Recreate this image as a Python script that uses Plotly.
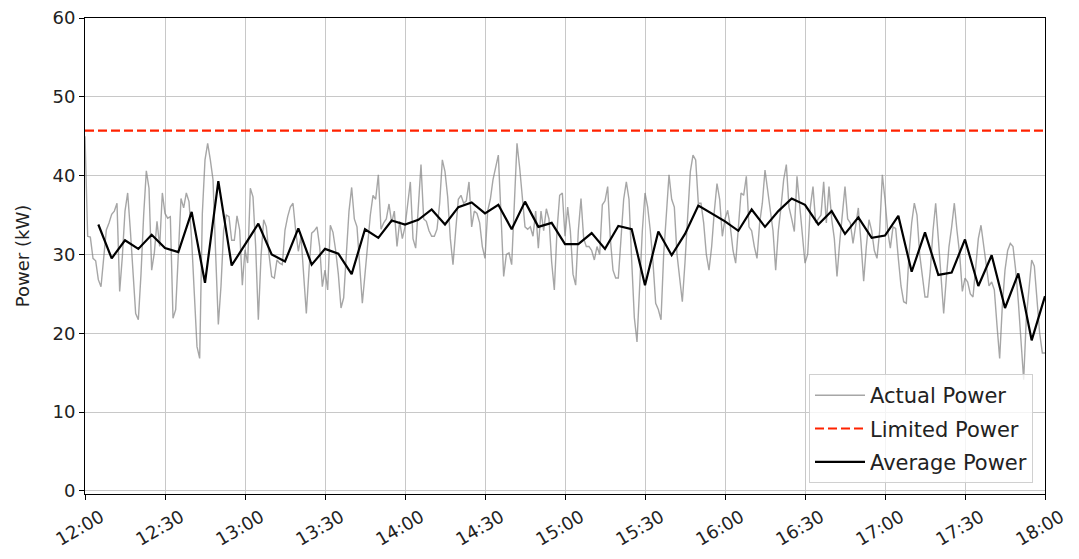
import pandas as pd
import plotly.graph_objects as go

# Actual power, 1-minute samples from 12:00 to 18:00 (kW)
actual_power = [
    45.0, 32.3, 32.2, 29.5, 29.2, 26.8, 25.9, 29.5, 33.1, 34.0,
    35.1, 35.5, 36.5, 25.3, 29.7, 35.5, 37.8, 33.1, 27.0, 22.5,
    21.7, 27.5, 35.0, 40.6, 38.4, 28.0, 30.2, 34.2, 31.0, 37.8,
    35.2, 34.6, 34.8, 21.9, 23.0, 31.0, 37.1, 35.9, 37.8, 36.7,
    31.8, 25.0, 18.3, 16.8, 35.2, 42.0, 44.1, 42.0, 39.5, 30.0,
    21.1, 26.0, 33.1, 35.0, 34.8, 31.8, 31.8, 34.9, 33.1, 26.1,
    30.6, 28.9, 38.4, 37.3, 31.0, 21.7, 29.7, 34.4, 33.5, 30.0,
    27.2, 27.0, 29.3, 28.9, 28.7, 33.1, 34.8, 36.0, 36.5, 33.0,
    30.4, 32.3, 27.0, 22.5, 28.0, 32.7, 33.0, 33.5, 31.0, 25.9,
    28.0, 25.5, 33.7, 32.8, 30.5, 27.5, 23.2, 24.5, 30.0, 35.5,
    38.5, 34.5, 33.5, 28.0, 23.8, 27.5, 31.5, 35.0, 37.5, 37.0,
    40.1, 33.2, 34.0, 34.5, 36.4, 34.0, 35.5, 31.0, 34.2, 32.0,
    33.5, 36.5, 39.2, 32.0, 30.8, 36.0, 41.4, 34.5, 34.2, 33.0,
    32.3, 32.3, 33.2, 36.5, 42.0, 40.5, 37.3, 32.0, 28.7, 33.0,
    37.0, 37.5, 36.5, 36.8, 39.2, 33.5, 35.5, 35.2, 34.0, 31.0,
    29.5, 35.5, 37.0, 39.5, 41.2, 42.6, 35.0, 27.2, 30.0, 30.2,
    28.7, 37.0, 44.1, 41.0, 36.9, 33.5, 33.2, 33.5, 32.3, 35.5,
    30.8, 35.5, 33.0, 35.8, 34.5, 29.0, 25.5, 33.0, 37.5, 37.8,
    32.3, 36.0, 33.0, 27.5, 26.1, 33.0, 37.1, 32.0, 31.0, 31.0,
    30.5, 29.3, 31.0, 30.0, 36.3, 36.8, 38.6, 32.0, 28.0, 27.0,
    27.0, 31.5, 37.0, 39.2, 37.0, 29.3, 22.0, 18.9, 26.0, 33.0,
    37.8, 36.0, 33.0, 29.0, 23.8, 23.0, 21.7, 30.0, 35.0, 40.1,
    37.0, 36.0, 30.0, 27.0, 24.0, 29.0, 35.0, 40.5, 42.6, 42.0,
    36.5, 36.5, 34.0, 30.0, 28.0, 31.0, 35.5, 39.0, 37.0, 32.3,
    34.5, 35.6, 33.5, 30.5, 28.9, 33.5, 37.8, 37.5, 39.9, 33.5,
    33.0, 31.0, 29.5, 34.0, 36.5, 40.7, 38.0, 36.0, 33.0, 28.0,
    33.0, 36.0, 39.5, 41.4, 36.0, 34.5, 32.9, 39.9, 36.0, 33.0,
    28.9, 30.0, 36.0, 38.6, 34.0, 34.5, 35.0, 39.2, 34.0, 38.6,
    34.5, 32.0, 27.2, 31.5, 35.0, 38.6, 34.5, 34.0, 31.4, 33.5,
    35.9, 31.5, 26.6, 31.0, 34.4, 33.0, 30.5, 29.5, 33.0, 40.1,
    37.0, 33.0, 30.8, 33.5, 33.3, 29.5, 26.0, 24.0, 23.8, 30.0,
    34.0, 36.5, 35.0, 30.0, 27.0, 24.6, 24.6, 28.0, 33.0, 36.5,
    32.0, 27.0, 22.5, 27.0, 31.0, 33.5, 36.5, 33.0, 30.0, 25.3,
    27.0, 26.5, 25.0, 24.6, 28.0, 32.0, 33.7, 31.0, 28.5, 26.0,
    26.5, 25.5, 21.0, 16.8, 23.5, 28.0, 30.5, 31.4, 31.0, 28.0,
    24.0, 19.6, 14.1, 22.0, 26.0, 29.3, 28.5, 24.0, 20.0, 17.5,
    17.5,
]

# 5-minute average power, 12:05 .. 18:00 (kW)
average_power = [
    33.8, 29.5, 31.8, 30.7, 32.5, 30.8, 30.3, 35.4, 26.4, 39.3,
    28.6, 31.3, 33.9, 30.0, 29.1, 33.3, 28.7, 30.7, 30.1, 27.5,
    33.2, 32.1, 34.3, 33.8, 34.4, 35.7, 33.8, 36.0, 36.6, 35.2,
    36.3, 33.2, 36.7, 33.5, 34.0, 31.3, 31.3, 32.7, 30.7, 33.6,
    33.2, 26.1, 32.9, 29.9, 32.6, 36.2, 35.2, 34.2, 33.0, 35.7,
    33.5, 35.5, 37.1, 36.3, 33.8, 35.5, 32.6, 34.7, 32.1, 32.4,
    34.9, 27.8, 32.8, 27.4, 27.7, 31.9, 26.0, 29.9, 23.2, 27.6,
    19.1, 24.7,
]

limited_power = 45.7
start_time = "2020-01-01 12:00"
end_time = "2020-01-01 18:00"

t_actual = pd.date_range(start_time, periods=len(actual_power), freq="1min")
t_avg = pd.date_range("2020-01-01 12:05", periods=len(average_power), freq="5min")
t_limit = [pd.Timestamp(start_time), pd.Timestamp(end_time)]

font_family = "DejaVu Sans"

fig = go.Figure()
fig.add_trace(go.Scatter(
    x=t_actual, y=actual_power, mode="lines", name="Actual Power", legendgroup="a",
    line=dict(color="rgba(128,128,128,0.7)", width=1.4),
))
fig.add_trace(go.Scatter(
    x=t_limit, y=[limited_power, limited_power], mode="lines", name="Limited Power",
    legendgroup="b",
    line=dict(color="#ff2200", width=2.2, dash="9px,4px"),
))
fig.add_trace(go.Scatter(
    x=t_avg, y=average_power, mode="lines", name="Average Power", legendgroup="c",
    line=dict(color="black", width=2.2),
))

fig.update_layout(
    width=1079, height=559,
    margin=dict(l=85, r=34, t=18, b=65),
    paper_bgcolor="white", plot_bgcolor="white",
    font=dict(family=font_family, size=18, color="#222222"),
    showlegend=True,
    legend=dict(
        x=0.9875, y=0.023, xanchor="right", yanchor="bottom",
        bgcolor="rgba(255,255,255,0.8)", bordercolor="#d0d0d0", borderwidth=1,
        font=dict(family=font_family, size=21, color="#222222"),
        tracegroupgap=3, traceorder="grouped", itemwidth=50,
    ),
)
fig.update_xaxes(
    type="date", range=t_limit, tickformat="%H:%M", dtick=30 * 60 * 1000,
    tick0=start_time, tickangle=-30, ticklabelshift=16, automargin=False,
    tickfont=dict(size=18),
    showgrid=True, gridcolor="#c8c8c8", gridwidth=1,
    showline=True, linecolor="black", linewidth=1, mirror=True,
    ticks="outside", ticklen=5, tickcolor="black",
    zeroline=False,
)
fig.update_yaxes(
    range=[-0.4, 60], dtick=10, tick0=0, automargin=False,
    tickfont=dict(size=18),
    title=dict(text="Power (kW)", standoff=18, font=dict(size=18)),
    showgrid=True, gridcolor="#c8c8c8", gridwidth=1,
    showline=True, linecolor="black", linewidth=1, mirror=True,
    ticks="outside", ticklen=5, tickcolor="black",
    zeroline=False,
)

fig.write_html("out.html")
